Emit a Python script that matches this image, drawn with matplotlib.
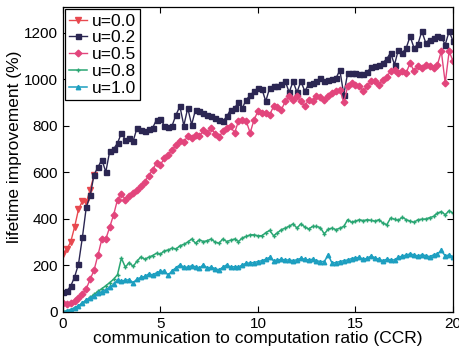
import numpy as np
import matplotlib
matplotlib.use("Agg")
import matplotlib.pyplot as plt

# CCR sample points (step 0.2)
ccr = np.round(np.arange(0, 20.01, 0.2), 1)

# u=0.0 only separates from u=0.2 at small CCR
u00 = [250, 270, 300, 365, 440, 476, 470, 525, 590]

u02 = [85, 90, 110, 150, 205, 320, 450, 500, 590, 622,
       654, 601, 690, 700, 725, 768, 740, 747, 733, 790,
       780, 776, 785, 790, 826, 830, 800, 795, 800, 847,
       883, 800, 876, 804, 869, 862, 855, 848, 840, 835,
       825, 818, 840, 869, 876, 900, 876, 912, 930, 948,
       962, 958, 905, 962, 970, 970, 980, 991, 943, 991,
       943, 991, 948, 977, 983, 991, 1005, 991, 998, 1000,
       1005, 1038, 933, 1027, 1027, 1027, 1020, 1020, 1030, 1052,
       1055, 1062, 1070, 1087, 1113, 1062, 1127, 1113, 1134, 1184,
       1134, 1150, 1206, 1156, 1170, 1177, 1184, 1180, 1148, 1206,
       1163]

u05 = [37, 33, 37, 45, 60, 75, 100, 140, 180, 245,
       313, 313, 364, 417, 482, 508, 482, 499, 510, 525,
       540, 560, 585, 610, 640, 632, 660, 675, 696, 715,
       735, 730, 755, 745, 760, 755, 780, 768, 790, 765,
       750, 776, 790, 797, 769, 819, 826, 819, 769, 826,
       862, 855, 855, 847, 883, 880, 869, 904, 926, 912,
       926, 905, 883, 912, 905, 926, 923, 912, 926, 940,
       948, 955, 900, 969, 983, 976, 969, 948, 969, 994,
       990, 976, 998, 1010, 1034, 1041, 1027, 1034, 1027, 1070,
       1034, 1055, 1048, 1062, 1055, 1048, 1062, 1120, 983, 1120,
       1077]

u08 = [0, 5, 9, 16, 24, 36, 48, 62, 75, 88,
       100, 112, 126, 140, 160, 231, 192, 212, 195, 218,
       236, 226, 235, 242, 252, 248, 262, 266, 274, 270,
       284, 290, 300, 313, 295, 310, 302, 306, 313, 300,
       295, 313, 302, 308, 313, 302, 318, 324, 331, 331,
       327, 327, 340, 350, 327, 340, 353, 360, 368, 378,
       360, 378, 365, 356, 367, 367, 362, 335, 355, 360,
       353, 360, 367, 396, 385, 390, 396, 392, 396, 393,
       390, 396, 382, 374, 403, 398, 393, 407, 396, 390,
       385, 396, 398, 399, 405, 410, 424, 431, 417, 435,
       424]

u10 = [0, 3, 10, 18, 26, 38, 52, 60, 68, 80,
       86, 95, 106, 118, 138, 132, 136, 138, 126, 140,
       148, 152, 163, 159, 168, 174, 174, 159, 176, 190,
       202, 192, 192, 198, 194, 188, 202, 188, 192, 186,
       180, 192, 202, 192, 194, 192, 202, 209, 210, 212,
       216, 220, 226, 234, 220, 222, 226, 223, 223, 220,
       224, 230, 226, 223, 226, 220, 216, 216, 245, 209,
       212, 216, 220, 223, 229, 232, 234, 226, 230, 240,
       232, 226, 220, 226, 224, 223, 234, 240, 244, 249,
       245, 240, 245, 242, 237, 245, 249, 264, 240, 245,
       237]

plt.rcParams["font.family"] = ["Liberation Sans", "DejaVu Sans"]

fig = plt.figure(figsize=(4.59, 3.5), dpi=100)
ax = fig.add_axes([0.137, 0.109, 0.85, 0.871])

ax.plot(ccr[:len(u00)], u00, color="#e8484f", marker="v", markersize=4.5,
        linewidth=1.0, label="u=0.0")
ax.plot(ccr, u02, color="#2b2652", marker="s", markersize=3.6,
        linewidth=1.0, label="u=0.2")
ax.plot(ccr, u05, color="#e2457c", marker="D", markersize=3.4,
        linewidth=1.0, label="u=0.5")
ax.plot(ccr, u08, color="#2aa673", marker="+", markersize=2.5,
        linewidth=1.1, label="u=0.8")
ax.plot(ccr, u10, color="#1d9fc0", marker="^", markersize=3.2,
        linewidth=1.1, label="u=1.0")

ax.set_xlim(0, 20)
ax.set_ylim(0, 1310)
ax.set_xticks([0, 5, 10, 15, 20])
ax.set_yticks([0, 200, 400, 600, 800, 1000, 1200])
ax.tick_params(direction="in", top=True, right=True, labelsize=11, length=4)
for s in ax.spines.values():
    s.set_linewidth(0.9)

ax.set_xlabel("communication to computation ratio (CCR)", fontsize=12.5, labelpad=0)
ax.set_ylabel("lifetime improvement (%)", fontsize=12.5, labelpad=1)
ax.yaxis.set_label_coords(-0.105, 0.54)

leg = ax.legend(loc="upper left", fontsize=12.5, handlelength=1.0,
                handletextpad=0.3, borderpad=0.25, labelspacing=0.1,
                borderaxespad=0.12, fancybox=False, framealpha=1)
leg.get_frame().set_edgecolor("black")
leg.get_frame().set_linewidth(0.9)

fig.savefig("out.png", dpi=100)
